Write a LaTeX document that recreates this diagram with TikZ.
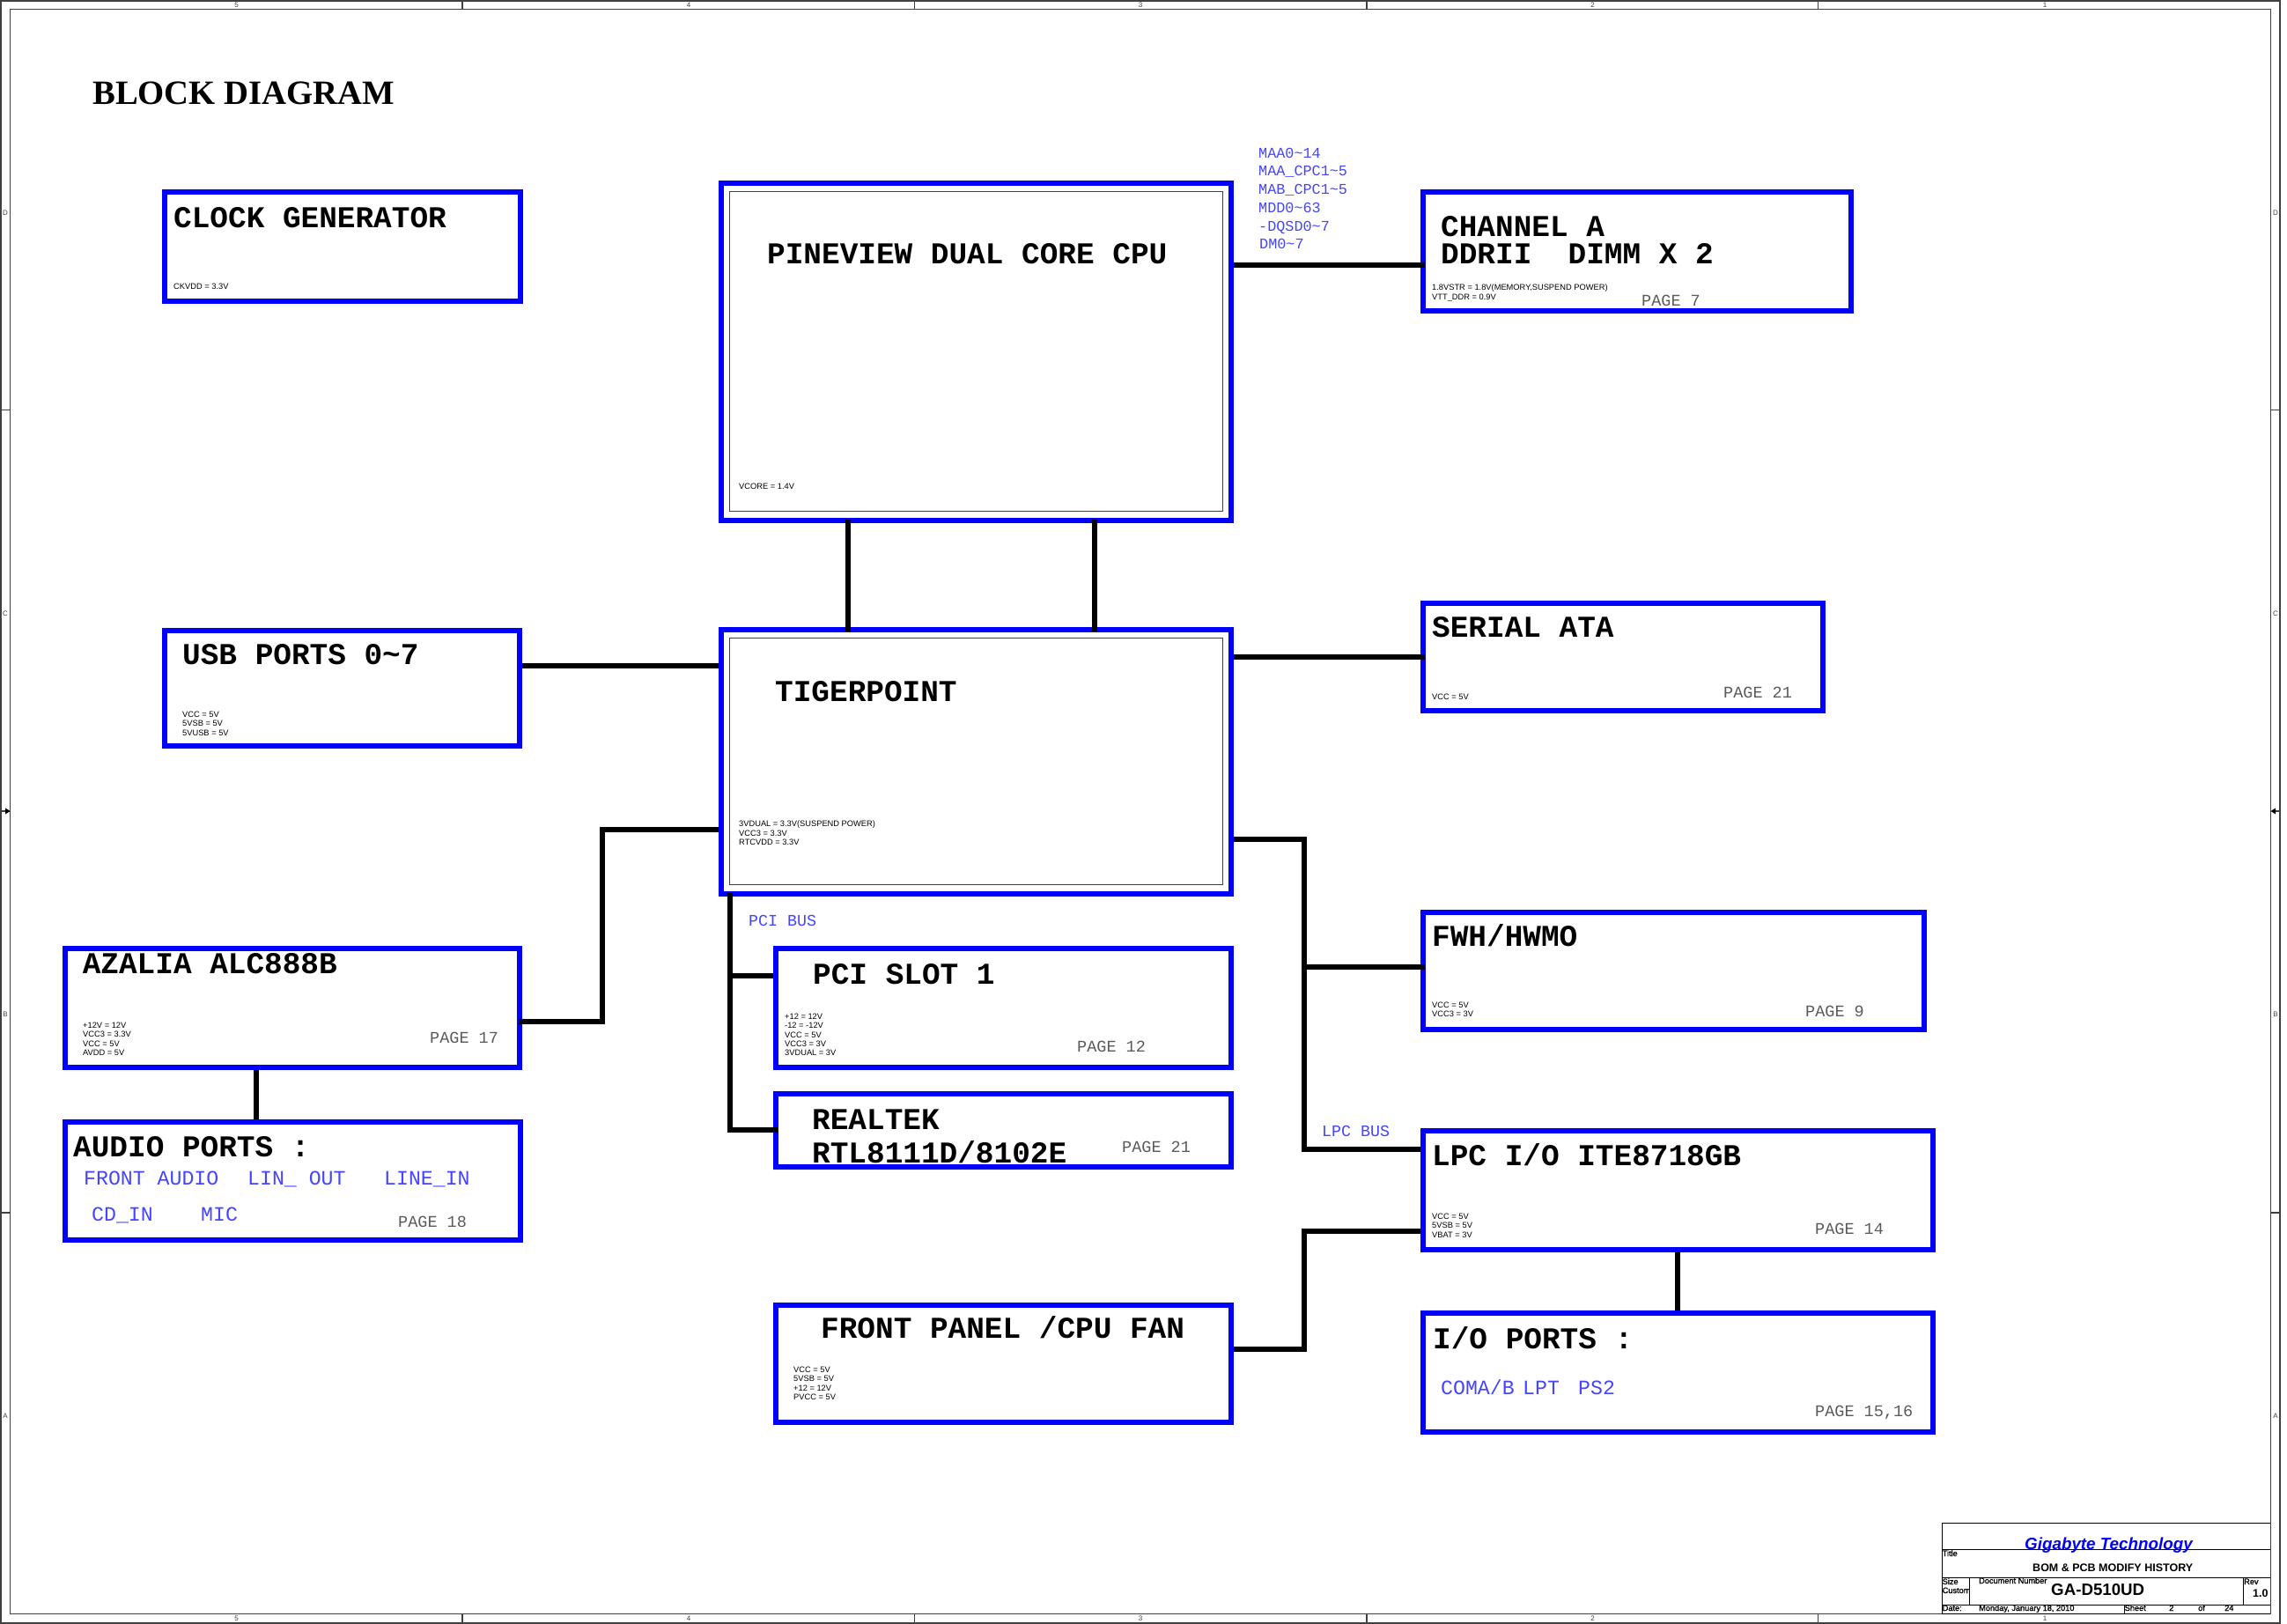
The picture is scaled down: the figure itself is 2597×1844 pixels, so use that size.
\documentclass[tikz,border=0pt]{standalone}
\usepackage{fontspec}
\setmainfont{Liberation Sans}
\newfontfamily\monofam{Liberation Mono}
\newfontfamily\serifam{Liberation Serif}
\newfontfamily\tbfam[FakeBold=1.2]{Liberation Sans}
\definecolor{framegray}{HTML}{404040}
\definecolor{pagegray}{HTML}{5A5A5A}
\definecolor{labelblue}{HTML}{4545FF}
\newcount\lblno
\tikzset{
  blockbox/.style={draw=blue,line width=6pt,rectangle,inner sep=0pt,outer sep=3pt},
  innerbox/.style={draw=framegray,line width=1pt,rectangle,inner sep=0pt,outer sep=0pt},
  wire/.style={draw=black,line width=6pt},
  lapstart/.style={shorten <=-4.5pt},
  lapend/.style={shorten >=-4.5pt},
  framepen/.style={draw=framegray,line width=1.2pt},
  ttltext/.style={font=\monofam\bfseries\fontsize{34.4}{38}\selectfont,anchor=base west,inner sep=0pt,text=black,yshift=-1pt},
  pagetext/.style={font=\monofam\fontsize{18.5}{20}\selectfont,anchor=base west,inner sep=0pt,text=pagegray},
  bustext/.style={font=\monofam\fontsize{18.3}{20}\selectfont,anchor=base west,inner sep=0pt,text=labelblue},
  memtext/.style={font=\monofam\fontsize{16.8}{18}\selectfont,anchor=base west,inner sep=0pt,text=labelblue},
  porttext/.style={font=\monofam\fontsize{23.2}{25}\selectfont,anchor=base west,inner sep=0pt,text=labelblue},
  pwrtext/.style={font=\fontsize{9.3}{10.2}\selectfont,anchor=north west,inner sep=0pt,align=left,text=black},
  zonetext/.style={font=\fontsize{8}{8}\selectfont,inner sep=0pt,text=framegray},
  tbtext/.style={font=\tbfam\fontsize{9.2}{10}\selectfont,anchor=base west,inner sep=0pt,text=black},
  tbbold/.style={font=\bfseries,anchor=base west,inner sep=0pt,text=black},
}
\newcommand{\blk}[5]{\pgfmathsetmacro\bw{#4-#2-6}\pgfmathsetmacro\bh{#5-#3-6}%
  \node[blockbox,minimum width=\bw pt,minimum height=\bh pt] (#1) at ({(#2+#4)/2},{(#3+#5)/2}) {};}
\newcommand{\inr}[5]{\pgfmathsetmacro\bw{#4-#2}\pgfmathsetmacro\bh{#5-#3}%
  \node[innerbox,minimum width=\bw pt,minimum height=\bh pt] (#1) at ({(#2+#4)/2},{(#3+#5)/2}) {};}
\newcommand{\lbl}[4]{\global\advance\lblno by 1 \node[#1] (lbl\the\lblno) at (#2,#3) {#4};}
\begin{document}
\begin{tikzpicture}[x=1pt,y=-1pt]
\useasboundingbox (0,0) rectangle (2597,1844);
\fill[white] (0,0) rectangle (2597,1844);
% frame
\draw[framepen] (1,1) rectangle (2589,1843);
\draw[framepen] (11.6,10.5) rectangle (2578.6,1832.5);
\foreach \x in {525,1038.5,1552,2064.5}{
  \draw[framepen] (\x,1) -- (\x,10.5);
  \draw[framepen] (\x,1832.5) -- (\x,1843);
}
\foreach \y in {465.5,1377}{
  \draw[framepen] (1,\y) -- (11.6,\y);
  \draw[framepen] (2578.6,\y) -- (2589,\y);
}
\draw[framepen] (1,921) -- (6,921);
\fill[black] (11.6,921) -- (6,917.5) -- (6,924.5) -- cycle;
\draw[framepen] (2584,921) -- (2589,921);
\fill[black] (2578.6,921) -- (2584,917.5) -- (2584,924.5) -- cycle;
\foreach \x/\t in {268.5/5,782/4,1295/3,1808.5/2,2322/1}{
  \node[zonetext] (zt\t) at (\x,5.5) {\t};
  \node[zonetext] (zb\t) at (\x,1838) {\t};
}
\foreach \y/\t in {242/D,697/C,1152/B,1608/A}{
  \node[zonetext] (zl\t) at (6,\y) {\t};
  \node[zonetext] (zr\t) at (2584,\y) {\t};
}
% blocks
\blk{clock}{184}{215}{594}{345}
\blk{cpu}{816}{205}{1401}{594}
\inr{cpuin}{828.5}{217}{1388}{580.7}
\blk{chan}{1613}{215}{2105}{356}
\blk{usb}{184}{713}{593}{850}
\blk{tiger}{816}{712}{1401}{1018}
\inr{tigerin}{828.5}{724.3}{1388}{1004}
\blk{sata}{1613}{682}{2073}{810}
\blk{fwh}{1613}{1033}{2188}{1172}
\blk{lpc}{1613}{1281}{2198}{1422}
\blk{iop}{1613}{1488}{2198}{1629}
\blk{front}{878}{1479}{1401}{1618}
\blk{azalia}{71}{1074}{593}{1215}
\blk{audio}{71}{1271}{594}{1411}
\blk{pci}{878}{1074}{1401}{1215}
\blk{rtl}{878}{1239}{1401}{1328}
% connectors
\draw[wire,lapend] (cpu.east |- 0,300.5) -- (chan.west |- 0,300.5);
\draw[wire,lapstart,lapend] (cpu.south -| 963,0) -- (tiger.north -| 963,0);
\draw[wire,lapstart,lapend] (cpu.south -| 1243,0) -- (tiger.north -| 1243,0);
\draw[wire] (usb.east |- 0,756) -- (tiger.west |- 0,756);
\draw[wire,lapend] (tiger.east |- 0,746) -- (sata.west |- 0,746);
\coordinate (azj1) at (684,1160);
\coordinate (azj2) at (684,942);
\draw[wire,lapstart,line join=miter] (azalia.east |- azj1) -- (azj1) -- (azj2) -- (tiger.west |- azj2);
\draw[wire] (azalia.south -| 291,0) -- (audio.north -| 291,0);
\coordinate (lj1) at (1481,953);
\coordinate (lj2) at (1481,1305);
\coordinate (lj3) at (1481,1098);
\draw[wire,line join=miter] (tiger.east |- lj1) -- (lj1) -- (lj2) -- (lpc.west |- lj2);
\draw[wire,lapend] (lj3) -- (fwh.west |- lj3);
\coordinate (fj1) at (1481,1532);
\coordinate (fj2) at (1481,1397.5);
\draw[wire,line join=miter] (front.east |- fj1) -- (fj1) -- (fj2) -- (lpc.west |- fj2);
\draw[wire] (lpc.south -| 1905,0) -- (iop.north -| 1905,0);
\coordinate (pj1) at (829,1283);
\coordinate (pj2) at (829,1108);
\draw[wire,lapstart,lapend,line join=miter] (tiger.south -| pj1) -- (pj1) -- (rtl.west |- pj1);
\draw[wire] (pj2) -- (pci.west |- pj2);
% main title
\lbl{font=\serifam\bfseries\fontsize{38.7}{42}\selectfont,anchor=base west,inner sep=0pt}{105}{118}{BLOCK DIAGRAM}
% block titles
\lbl{ttltext}{197}{257}{CLOCK GENERATOR}
\lbl{ttltext}{871}{298}{PINEVIEW DUAL CORE CPU}
\lbl{ttltext}{1636}{267}{CHANNEL A}
\lbl{ttltext}{1636}{298}{DDRII\ \ DIMM X 2}
\lbl{ttltext}{207}{753}{USB PORTS 0\textasciitilde 7}
\lbl{ttltext}{880}{795}{TIGERPOINT}
\lbl{ttltext}{1626}{722}{SERIAL ATA}
\lbl{ttltext}{93.6}{1104}{AZALIA ALC888B}
\lbl{ttltext}{83}{1312}{AUDIO PORTS :}
\lbl{ttltext}{923}{1116}{PCI SLOT 1}
\lbl{ttltext}{922}{1281}{REALTEK}
\lbl{ttltext}{922}{1319}{RTL8111D/8102E}
\lbl{ttltext}{1626}{1073}{FWH/HWMO}
\lbl{ttltext}{1626}{1322}{LPC I/O ITE8718GB}
\lbl{ttltext}{1627}{1530}{I/O PORTS :}
\lbl{ttltext}{932}{1518}{FRONT PANEL /CPU FAN}
% power notes
\lbl{pwrtext}{197}{322}{CKVDD = 3.3V}
\lbl{pwrtext}{1626}{323}{1.8VSTR = 1.8V(MEMORY,SUSPEND POWER)\\VTT\_DDR = 0.9V}
\lbl{pwrtext}{839}{549}{VCORE = 1.4V}
\lbl{pwrtext}{207}{808}{VCC = 5V\\5VSB = 5V\\5VUSB = 5V}
\lbl{pwrtext}{839}{932}{3VDUAL = 3.3V(SUSPEND POWER)\\VCC3 = 3.3V\\RTCVDD = 3.3V}
\lbl{pwrtext}{1626}{788}{VCC = 5V}
\lbl{pwrtext}{94}{1161}{+12V = 12V\\VCC3 = 3.3V\\VCC = 5V\\AVDD = 5V}
\lbl{pwrtext}{891}{1151}{+12 = 12V\\-12 = -12V\\VCC = 5V\\VCC3 = 3V\\3VDUAL = 3V}
\lbl{pwrtext}{1626}{1138}{VCC = 5V\\VCC3 = 3V}
\lbl{pwrtext}{1626}{1378}{VCC = 5V\\5VSB = 5V\\VBAT = 3V}
\lbl{pwrtext}{901}{1552}{VCC = 5V\\5VSB = 5V\\+12 = 12V\\PVCC = 5V}
% page refs
\lbl{pagetext}{1864}{347}{PAGE 7}
\lbl{pagetext}{1957}{792}{PAGE 21}
\lbl{pagetext}{488}{1184}{PAGE 17}
\lbl{pagetext}{452}{1393}{PAGE 18}
\lbl{pagetext}{1223}{1194}{PAGE 12}
\lbl{pagetext}{1274}{1308}{PAGE 21}
\lbl{pagetext}{2050}{1154}{PAGE 9}
\lbl{pagetext}{2061}{1401}{PAGE 14}
\lbl{pagetext}{2061}{1608}{PAGE 15,16}
% blue labels
\lbl{memtext}{1429}{179}{MAA0\textasciitilde 14}
\lbl{memtext}{1429}{199.5}{MAA\_CPC1\textasciitilde 5}
\lbl{memtext}{1429}{220}{MAB\_CPC1\textasciitilde 5}
\lbl{memtext}{1429}{241}{MDD0\textasciitilde 63}
\lbl{memtext}{1429}{262}{-DQSD0\textasciitilde 7}
\lbl{memtext}{1430}{282}{DM0\textasciitilde 7}
\lbl{bustext}{850}{1051}{PCI BUS}
\lbl{bustext}{1501}{1290}{LPC BUS}
\lbl{porttext}{95}{1345}{FRONT AUDIO}
\lbl{porttext}{281}{1345}{LIN\_ OUT}
\lbl{porttext}{436}{1345}{LINE\_IN}
\lbl{porttext}{104}{1386}{CD\_IN}
\lbl{porttext}{228}{1386}{MIC}
\lbl{porttext}{1636}{1583}{COMA/B}
\lbl{porttext}{1729}{1583}{LPT}
\lbl{porttext}{1792}{1583}{PS2}
% title block
\draw[line width=1pt,black] (2205,1832) -- (2205,1729) -- (2578,1729);
\draw[line width=1pt,black] (2205,1759.5) -- (2578,1759.5);
\draw[line width=1pt,black] (2205,1791) -- (2578,1791);
\draw[line width=1pt,black] (2205,1822) -- (2578,1822);
\draw[line width=1pt,black] (2205,1832) -- (2578,1832);
\draw[line width=1pt,black] (2236.7,1791) -- (2236.7,1822);
\draw[line width=1pt,black] (2547,1791) -- (2547,1822);
\draw[line width=1pt,black] (2412,1822) -- (2412,1832);
\lbl{tbbold,font=\bfseries\itshape\fontsize{18.8}{20}\selectfont,text=blue}{2299}{1759}{Gigabyte Technology}
\lbl{tbtext}{2205.5}{1767}{Title}
\lbl{tbbold,font=\bfseries\fontsize{12.5}{14}\selectfont}{2308}{1784}{BOM \& PCB MODIFY HISTORY}
\lbl{tbtext}{2205.5}{1799}{Size}
\lbl{tbtext}{2205.5}{1809}{Custom}
\lbl{tbtext}{2247}{1798}{Document Number}
\lbl{tbbold,font=\bfseries\fontsize{18.7}{20}\selectfont}{2329}{1811}{GA-D510UD}
\lbl{tbtext}{2548}{1799}{Rev}
\lbl{tbbold,font=\bfseries\fontsize{12.5}{14}\selectfont}{2558}{1813}{1.0}
\lbl{tbtext}{2205.5}{1829}{Date:}
\lbl{tbtext}{2247}{1829}{Monday, January 18, 2010}
\lbl{tbtext}{2412.5}{1829}{Sheet}
\lbl{tbtext}{2463}{1829}{2}
\lbl{tbtext}{2496}{1829}{of}
\lbl{tbtext}{2526}{1829}{24}
\end{tikzpicture}
\end{document}
